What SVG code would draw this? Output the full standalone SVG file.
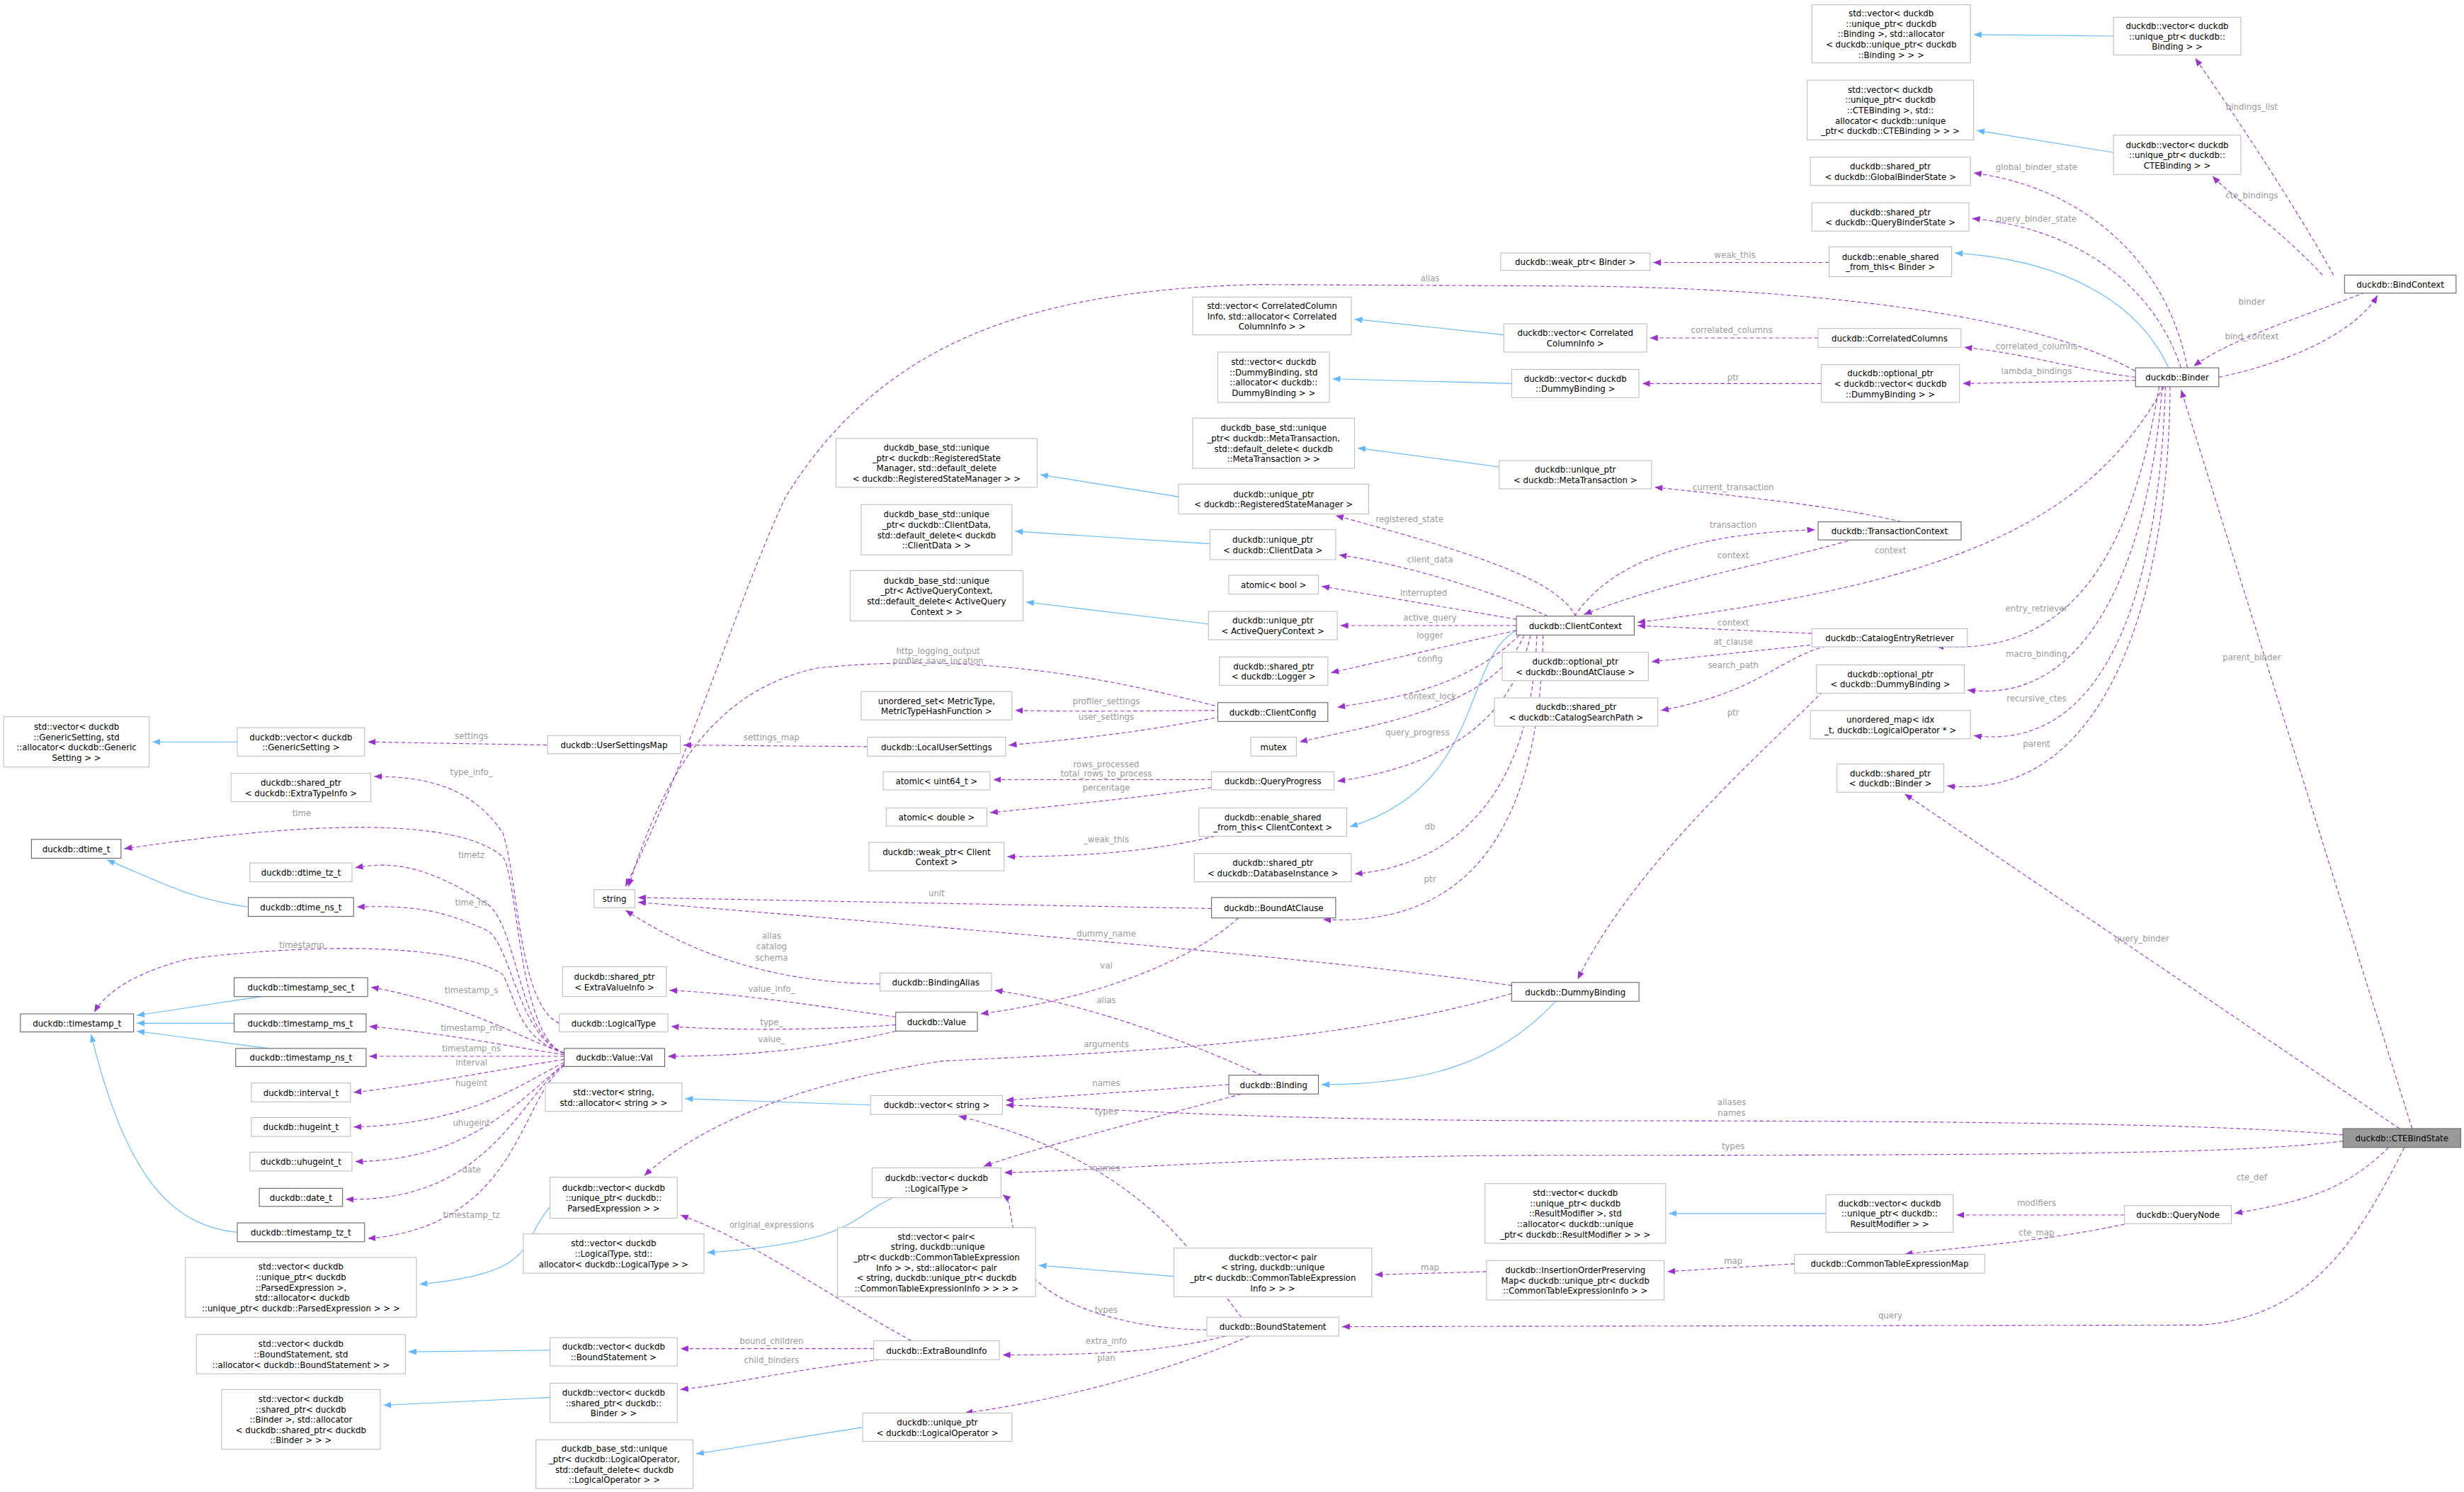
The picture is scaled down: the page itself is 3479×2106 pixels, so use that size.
<svg xmlns="http://www.w3.org/2000/svg" width="3479" height="2106" viewBox="0 0 3479 2106">
<style>
.n rect{fill:#fff;stroke:#bfbfbf;stroke-width:0.5}
.d rect{stroke:#666}
.g rect{fill:#999;stroke:#666}
text{font-family:"DejaVu Sans Condensed","DejaVu Sans","Liberation Sans",sans-serif;font-size:5.9px;text-anchor:middle;fill:#000}
.l text,text.l{fill:#9a9a9a}
.e{fill:none;stroke:#9a32cd;stroke-width:0.5;stroke-dasharray:2.5,1.6;marker-end:url(#pa)}
.i{fill:none;stroke:#63b8ff;stroke-width:0.5;marker-end:url(#ba)}
</style>
<defs>
<marker id="pa" markerUnits="userSpaceOnUse" markerWidth="5" markerHeight="4" viewBox="0 0 10 8" refX="10" refY="4" orient="auto"><path d="M0,0L10,4L0,8z" fill="#9a32cd"/></marker>
<marker id="ba" markerUnits="userSpaceOnUse" markerWidth="5" markerHeight="4" viewBox="0 0 10 8" refX="10" refY="4" orient="auto"><path d="M0,0L10,4L0,8z" fill="#63b8ff"/></marker>
</defs>
<rect width="3479" height="2106" fill="#fff"/>
<g transform="scale(2.2187)">
<g id="edges">
<path class="i" d="M1345,23L1256,22"/>
<path class="i" d="M1345,97L1258,83"/>
<path class="i" d="M1380,234C1360,190 1310,165 1244,161"/>
<path class="i" d="M957,213L862,203"/>
<path class="i" d="M962,244L848,241"/>
<path class="i" d="M954,297L864,285"/>
<path class="i" d="M750,316L662,302"/>
<path class="i" d="M770,346L646,338"/>
<path class="i" d="M769,397L653,383"/>
<path class="i" d="M965,401C930,420 945,500 859,526"/>
<path class="i" d="M990,637C950,680 900,690 841,690"/>
<path class="i" d="M151,472L97,472"/>
<path class="i" d="M158,577C120,572 100,560 68,547"/>
<path class="i" d="M166,634L87,646"/>
<path class="i" d="M149,651L87,651"/>
<path class="i" d="M171,667L87,656"/>
<path class="i" d="M151,784C110,780 80,750 58,658"/>
<path class="i" d="M554,703L436,699"/>
<path class="i" d="M350,768C330,790 345,810 267,817"/>
<path class="i" d="M568,762C540,775 545,790 450,797"/>
<path class="i" d="M747,812L661,805"/>
<path class="i" d="M350,859L260,860"/>
<path class="i" d="M350,889L244,894"/>
<path class="i" d="M549,908L443,925"/>
<path class="i" d="M1162,772L1062,772"/>

<path class="e" d="M1485,175C1460,130 1420,70 1397,37"/>
<path class="e" d="M1478,175C1450,145 1420,125 1408,112"/>
<path class="e" d="M1392,234C1380,170 1330,120 1256,110"/>
<path class="e" d="M1388,234C1370,180 1320,145 1255,139"/>
<path class="e" d="M1164,167L1052,167"/>
<path class="e" d="M1362,238C1300,200 1150,183 1000,182L800,181C650,185 560,220 500,316C470,380 440,480 398,564"/>
<path class="e" d="M1157,215L1050,215"/>
<path class="e" d="M1359,240C1320,235 1290,225 1250,221"/>
<path class="e" d="M1159,244L1045,244"/>
<path class="e" d="M1359,242L1249,244"/>
<path class="e" d="M1505,186C1470,200 1420,215 1396,233"/>
<path class="e" d="M1412,240C1460,230 1500,210 1513,188"/>
<path class="e" d="M1210,332C1170,322 1100,315 1053,310"/>
<path class="e" d="M1002,392C1020,365 1060,340 1155,337"/>
<path class="e" d="M1180,343C1120,360 1060,370 1008,391"/>
<path class="e" d="M1377,246C1330,330 1250,370 1042,396"/>
<path class="e" d="M1153,403L1042,398"/>
<path class="e" d="M1156,410L1051,421"/>
<path class="e" d="M1162,411C1130,420 1120,440 1057,452"/>
<path class="e" d="M1374,246C1360,330 1330,420 1232,411"/>
<path class="e" d="M1376,246C1370,330 1340,450 1252,439"/>
<path class="e" d="M1378,246C1375,350 1350,480 1256,468"/>
<path class="e" d="M1381,246C1380,380 1340,510 1239,500"/>
<path class="e" d="M1160,440C1120,480 1040,550 1004,623"/>
<path class="e" d="M1535,718L1388,248"/>
<path class="e" d="M1527,718L1212,505"/>
<path class="e" d="M1491,722C1420,716 1300,713 1000,713C800,713 700,705 640,703"/>
<path class="e" d="M1491,726C1430,733 1350,735 1000,735C800,735 700,745 639,746"/>
<path class="e" d="M1520,730C1490,760 1460,765 1422,772"/>
<path class="e" d="M1352,773L1245,773"/>
<path class="e" d="M1356,778C1300,790 1260,792 1212,798"/>
<path class="e" d="M1142,804L1061,809"/>
<path class="e" d="M946,809L875,811"/>
<path class="e" d="M1530,730C1500,790 1470,838 1400,843L854,844"/>
<path class="e" d="M1003,392C990,370 950,355 850,328"/>
<path class="e" d="M985,392C960,380 900,360 852,353"/>
<path class="e" d="M965,394L841,373"/>
<path class="e" d="M965,398L853,398"/>
<path class="e" d="M965,401L847,428"/>
<path class="e" d="M967,404C930,440 880,445 851,450"/>
<path class="e" d="M970,404C950,450 880,460 827,472"/>
<path class="e" d="M974,404C960,470 900,490 851,497"/>
<path class="e" d="M978,404C975,500 930,550 862,556"/>
<path class="e" d="M982,404C980,520 940,590 842,585"/>
<path class="e" d="M777,450C700,430 620,415 520,425C450,440 420,500 400,564"/>
<path class="e" d="M777,452C740,452 700,453 646,452"/>
<path class="e" d="M777,456C730,465 690,470 642,474"/>
<path class="e" d="M552,475L435,474"/>
<path class="e" d="M348,474L234,472"/>
<path class="e" d="M771,496L632,496"/>
<path class="e" d="M771,501C720,508 680,512 630,517"/>
<path class="e" d="M773,532C740,540 700,545 641,545"/>
<path class="e" d="M771,578L406,571"/>
<path class="e" d="M962,627C850,610 600,590 406,574"/>
<path class="e" d="M788,584C760,610 700,635 624,645"/>
<path class="e" d="M560,626C480,625 430,600 398,579"/>
<path class="e" d="M570,647C520,640 470,632 426,630"/>
<path class="e" d="M570,652C530,655 470,656 427,653"/>
<path class="e" d="M570,656C520,668 470,672 425,672"/>
<path class="e" d="M803,684C760,665 700,640 633,630"/>
<path class="e" d="M962,632C850,665 700,670 600,675C500,690 440,720 410,748"/>
<path class="e" d="M782,690L640,700"/>
<path class="e" d="M790,696C720,715 660,730 626,742"/>
<path class="e" d="M790,838C760,800 730,740 610,710"/>
<path class="e" d="M768,846C720,846 660,830 650,800C640,770 645,765 638,760"/>
<path class="e" d="M780,850C740,860 700,862 638,862"/>
<path class="e" d="M795,850C750,870 680,890 614,899"/>
<path class="e" d="M580,853C520,820 480,790 433,773"/>
<path class="e" d="M556,858L433,858"/>
<path class="e" d="M560,865C500,872 470,880 433,884"/>
<path class="e" d="M356,651C330,640 330,560 320,530C300,500 270,494 238,494"/>
<path class="e" d="M359,670C330,660 330,560 320,545C290,520 200,522 79,540"/>
<path class="e" d="M359,670C330,660 330,590 310,575C270,550 250,548 226,552"/>
<path class="e" d="M359,670C330,660 325,600 310,592C280,578 260,576 227,577"/>
<path class="e" d="M359,670C330,660 330,640 320,620C290,600 200,600 120,610C80,620 65,635 60,644"/>
<path class="e" d="M359,670C330,660 300,640 236,628"/>
<path class="e" d="M359,671C320,665 280,657 235,653"/>
<path class="e" d="M359,672L235,672"/>
<path class="e" d="M359,674C320,680 270,690 225,695"/>
<path class="e" d="M359,676C330,690 300,715 225,717"/>
<path class="e" d="M359,677C330,700 300,738 226,739"/>
<path class="e" d="M359,677C330,700 310,765 220,763"/>
<path class="e" d="M359,678C330,700 330,780 234,788"/>
<g class="l">
<text x="1433" y="70">bindings_list</text>
<text x="1433" y="126">cte_bindings</text>
<text x="1296" y="108">global_binder_state</text>
<text x="1296" y="141">query_binder_state</text>
<text x="1104" y="164">weak_this</text>
<text x="910" y="179">alias</text>
<text x="1102" y="212">correlated_columns</text>
<text x="1296" y="222">correlated_columns</text>
<text x="1103" y="242">ptr</text>
<text x="1296" y="238">lambda_bindings</text>
<text x="1433" y="194">binder</text>
<text x="1433" y="216">bind_context</text>
<text x="1103" y="312">current_transaction</text>
<text x="1103" y="336">transaction</text>
<text x="1103" y="355">context</text>
<text x="1203" y="352">context</text>
<text x="1103" y="398">context</text>
<text x="1103" y="410">at_clause</text>
<text x="1103" y="425">search_path</text>
<text x="1296" y="389">entry_retriever</text>
<text x="1296" y="418">macro_binding</text>
<text x="1296" y="446">recursive_ctes</text>
<text x="1296" y="475">parent</text>
<text x="1103" y="455">ptr</text>
<text x="1433" y="420">parent_binder</text>
<text x="1363" y="599">query_binder</text>
<text x="1102" y="703">aliases</text>
<text x="1102" y="710">names</text>
<text x="1103" y="731">types</text>
<text x="1433" y="751">cte_def</text>
<text x="1296" y="767">modifiers</text>
<text x="1296" y="786">cte_map</text>
<text x="1103" y="804">map</text>
<text x="910" y="808">map</text>
<text x="1203" y="839">query</text>
<text x="897" y="332">registered_state</text>
<text x="910" y="358">client_data</text>
<text x="906" y="379">interrupted</text>
<text x="910" y="395">active_query</text>
<text x="910" y="406">logger</text>
<text x="910" y="421">config</text>
<text x="910" y="445">context_lock</text>
<text x="902" y="468">query_progress</text>
<text x="910" y="528">db</text>
<text x="910" y="561">ptr</text>
<text x="597" y="416">http_logging_output</text>
<text x="597" y="422.5">profiler_save_location</text>
<text x="704" y="448">profiler_settings</text>
<text x="704" y="458">user_settings</text>
<text x="491" y="471">settings_map</text>
<text x="300" y="470">settings</text>
<text x="704" y="488">rows_processed</text>
<text x="704" y="494">total_rows_to_process</text>
<text x="704" y="503">percentage</text>
<text x="704" y="536">_weak_this</text>
<text x="596" y="570">unit</text>
<text x="704" y="596">dummy_name</text>
<text x="704" y="616">val</text>
<text x="491" y="597">alias</text>
<text x="491" y="604">catalog</text>
<text x="491" y="611">schema</text>
<text x="491" y="631">value_info_</text>
<text x="491" y="652">type_</text>
<text x="491" y="663">value_</text>
<text x="704" y="638">alias</text>
<text x="704" y="666">arguments</text>
<text x="704" y="691">names</text>
<text x="704" y="709">types</text>
<text x="704" y="745">names</text>
<text x="704" y="835">types</text>
<text x="704" y="855">extra_info</text>
<text x="704" y="866">plan</text>
<text x="491" y="781">original_expressions</text>
<text x="491" y="855">bound_children</text>
<text x="491" y="867">child_binders</text>
<text x="300" y="493">type_info_</text>
<text x="192" y="519">time</text>
<text x="300" y="546">timetz</text>
<text x="300" y="576">time_ns</text>
<text x="192" y="603">timestamp</text>
<text x="300" y="632">timestamp_s</text>
<text x="300" y="656">timestamp_ms</text>
<text x="300" y="669">timestamp_ns</text>
<text x="300" y="678">interval</text>
<text x="300" y="691">hugeint</text>
<text x="300" y="716">uhugeint</text>
<text x="300" y="746">date</text>
<text x="300" y="775">timestamp_tz</text>
</g>
</g>

<g id="n1" class="n"><rect x="1153" y="3" width="101" height="37"/><text x="1203.5" y="10.4"><tspan x="1203.5">std::vector&lt; duckdb</tspan><tspan x="1203.5" dy="6.6">::unique_ptr&lt; duckdb</tspan><tspan x="1203.5" dy="6.6">::Binding &gt;, std::allocator</tspan><tspan x="1203.5" dy="6.6">&lt; duckdb::unique_ptr&lt; duckdb</tspan><tspan x="1203.5" dy="6.6">::Binding &gt; &gt; &gt;</tspan></text></g>
<g id="n2" class="n"><rect x="1345" y="11" width="81" height="24"/><text x="1385.5" y="18.5"><tspan x="1385.5">duckdb::vector&lt; duckdb</tspan><tspan x="1385.5" dy="6.6">::unique_ptr&lt; duckdb::</tspan><tspan x="1385.5" dy="6.6">Binding &gt; &gt;</tspan></text></g>
<g id="n3" class="n"><rect x="1150" y="51" width="106" height="38"/><text x="1203" y="58.9"><tspan x="1203">std::vector&lt; duckdb</tspan><tspan x="1203" dy="6.6">::unique_ptr&lt; duckdb</tspan><tspan x="1203" dy="6.6">::CTEBinding &gt;, std::</tspan><tspan x="1203" dy="6.6">allocator&lt; duckdb::unique</tspan><tspan x="1203" dy="6.6">_ptr&lt; duckdb::CTEBinding &gt; &gt; &gt;</tspan></text></g>
<g id="n4" class="n"><rect x="1345" y="86" width="81" height="25"/><text x="1385.5" y="94"><tspan x="1385.5">duckdb::vector&lt; duckdb</tspan><tspan x="1385.5" dy="6.6">::unique_ptr&lt; duckdb::</tspan><tspan x="1385.5" dy="6.6">CTEBinding &gt; &gt;</tspan></text></g>
<g id="n5" class="n"><rect x="1152" y="100" width="102" height="18"/><text x="1203" y="107.8"><tspan x="1203">duckdb::shared_ptr</tspan><tspan x="1203" dy="6.6">&lt; duckdb::GlobalBinderState &gt;</tspan></text></g>
<g id="n6" class="n"><rect x="1153" y="129" width="100" height="18"/><text x="1203" y="136.8"><tspan x="1203">duckdb::shared_ptr</tspan><tspan x="1203" dy="6.6">&lt; duckdb::QueryBinderState &gt;</tspan></text></g>
<g id="n7" class="n d"><rect x="1492" y="175" width="71" height="11.5"/><text x="1527.5" y="182.9">duckdb::BindContext</text></g>
<g id="n8" class="n"><rect x="955" y="161" width="95" height="11"/><text x="1002.5" y="168.6">duckdb::weak_ptr&lt; Binder &gt;</text></g>
<g id="n9" class="n"><rect x="1164" y="157" width="78" height="19"/><text x="1203" y="165.3"><tspan x="1203">duckdb::enable_shared</tspan><tspan x="1203" dy="6.6">_from_this&lt; Binder &gt;</tspan></text></g>
<g id="n10" class="n"><rect x="957" y="206" width="91" height="18"/><text x="1002.5" y="213.8"><tspan x="1002.5">duckdb::vector&lt; Correlated</tspan><tspan x="1002.5" dy="6.6">ColumnInfo &gt;</tspan></text></g>
<g id="n11" class="n"><rect x="1157" y="209" width="91" height="12"/><text x="1202.5" y="217.1">duckdb::CorrelatedColumns</text></g>
<g id="n12" class="n d"><rect x="1359" y="234" width="53" height="12"/><text x="1385.5" y="242.1">duckdb::Binder</text></g>
<g id="n13" class="n"><rect x="962" y="235" width="81" height="18"/><text x="1002.5" y="242.8"><tspan x="1002.5">duckdb::vector&lt; duckdb</tspan><tspan x="1002.5" dy="6.6">::DummyBinding &gt;</tspan></text></g>
<g id="n14" class="n"><rect x="1159" y="232" width="88" height="24"/><text x="1203" y="239.5"><tspan x="1203">duckdb::optional_ptr</tspan><tspan x="1203" dy="6.6">&lt; duckdb::vector&lt; duckdb</tspan><tspan x="1203" dy="6.6">::DummyBinding &gt; &gt;</tspan></text></g>
<g id="n15" class="n"><rect x="954" y="293" width="97" height="18"/><text x="1002.5" y="300.8"><tspan x="1002.5">duckdb::unique_ptr</tspan><tspan x="1002.5" dy="6.6">&lt; duckdb::MetaTransaction &gt;</tspan></text></g>
<g id="n16" class="n d"><rect x="1157" y="332" width="91" height="11.5"/><text x="1202.5" y="339.9">duckdb::TransactionContext</text></g>
<g id="n17" class="n d"><rect x="965" y="392" width="75" height="12"/><text x="1002.5" y="400.1">duckdb::ClientContext</text></g>
<g id="n18" class="n"><rect x="1153" y="400" width="99" height="11.5"/><text x="1202.5" y="407.9">duckdb::CatalogEntryRetriever</text></g>
<g id="n19" class="n"><rect x="956" y="415" width="93" height="18"/><text x="1002.5" y="422.8"><tspan x="1002.5">duckdb::optional_ptr</tspan><tspan x="1002.5" dy="6.6">&lt; duckdb::BoundAtClause &gt;</tspan></text></g>
<g id="n20" class="n"><rect x="951" y="444" width="104" height="18"/><text x="1003" y="451.8"><tspan x="1003">duckdb::shared_ptr</tspan><tspan x="1003" dy="6.6">&lt; duckdb::CatalogSearchPath &gt;</tspan></text></g>
<g id="n21" class="n"><rect x="1156" y="423" width="94" height="18"/><text x="1203" y="430.8"><tspan x="1203">duckdb::optional_ptr</tspan><tspan x="1203" dy="6.6">&lt; duckdb::DummyBinding &gt;</tspan></text></g>
<g id="n22" class="n"><rect x="1152" y="452" width="102" height="18"/><text x="1203" y="459.8"><tspan x="1203">unordered_map&lt; idx</tspan><tspan x="1203" dy="6.6">_t, duckdb::LogicalOperator * &gt;</tspan></text></g>
<g id="n23" class="n"><rect x="1169" y="486" width="68" height="18"/><text x="1203" y="493.8"><tspan x="1203">duckdb::shared_ptr</tspan><tspan x="1203" dy="6.6">&lt; duckdb::Binder &gt;</tspan></text></g>
<g id="n24" class="n d"><rect x="962" y="625" width="81" height="12"/><text x="1002.5" y="633.1">duckdb::DummyBinding</text></g>
<g id="n25" class="n g"><rect x="1491" y="718" width="75" height="12"/><text x="1528.5" y="726.1">duckdb::CTEBindState</text></g>
<g id="n26" class="n"><rect x="945" y="753" width="115" height="38"/><text x="1002.5" y="760.9"><tspan x="1002.5">std::vector&lt; duckdb</tspan><tspan x="1002.5" dy="6.6">::unique_ptr&lt; duckdb</tspan><tspan x="1002.5" dy="6.6">::ResultModifier &gt;, std</tspan><tspan x="1002.5" dy="6.6">::allocator&lt; duckdb::unique</tspan><tspan x="1002.5" dy="6.6">_ptr&lt; duckdb::ResultModifier &gt; &gt; &gt;</tspan></text></g>
<g id="n27" class="n"><rect x="1162" y="760" width="81" height="24"/><text x="1202.5" y="767.5"><tspan x="1202.5">duckdb::vector&lt; duckdb</tspan><tspan x="1202.5" dy="6.6">::unique_ptr&lt; duckdb::</tspan><tspan x="1202.5" dy="6.6">ResultModifier &gt; &gt;</tspan></text></g>
<g id="n28" class="n"><rect x="1352" y="767" width="68" height="11.5"/><text x="1386" y="774.9">duckdb::QueryNode</text></g>
<g id="n29" class="n"><rect x="1142" y="798" width="121" height="12"/><text x="1202.5" y="806.1">duckdb::CommonTableExpressionMap</text></g>
<g id="n30" class="n"><rect x="946" y="802" width="113" height="25"/><text x="1002.5" y="810"><tspan x="1002.5">duckdb::InsertionOrderPreserving</tspan><tspan x="1002.5" dy="6.6">Map&lt; duckdb::unique_ptr&lt; duckdb</tspan><tspan x="1002.5" dy="6.6">::CommonTableExpressionInfo &gt; &gt;</tspan></text></g>
<g id="n31" class="n"><rect x="759" y="189" width="101" height="24"/><text x="809.5" y="196.5"><tspan x="809.5">std::vector&lt; CorrelatedColumn</tspan><tspan x="809.5" dy="6.6">Info, std::allocator&lt; Correlated</tspan><tspan x="809.5" dy="6.6">ColumnInfo &gt; &gt;</tspan></text></g>
<g id="n32" class="n"><rect x="775" y="224" width="71" height="32"/><text x="810.5" y="232.2"><tspan x="810.5">std::vector&lt; duckdb</tspan><tspan x="810.5" dy="6.6">::DummyBinding, std</tspan><tspan x="810.5" dy="6.6">::allocator&lt; duckdb::</tspan><tspan x="810.5" dy="6.6">DummyBinding &gt; &gt;</tspan></text></g>
<g id="n33" class="n"><rect x="759" y="266" width="103" height="32"/><text x="810.5" y="274.2"><tspan x="810.5">duckdb_base_std::unique</tspan><tspan x="810.5" dy="6.6">_ptr&lt; duckdb::MetaTransaction,</tspan><tspan x="810.5" dy="6.6">std::default_delete&lt; duckdb</tspan><tspan x="810.5" dy="6.6">::MetaTransaction &gt; &gt;</tspan></text></g>
<g id="n34" class="n"><rect x="532" y="279" width="128" height="31"/><text x="596" y="286.7"><tspan x="596">duckdb_base_std::unique</tspan><tspan x="596" dy="6.6">_ptr&lt; duckdb::RegisteredState</tspan><tspan x="596" dy="6.6">Manager, std::default_delete</tspan><tspan x="596" dy="6.6">&lt; duckdb::RegisteredStateManager &gt; &gt;</tspan></text></g>
<g id="n35" class="n"><rect x="750" y="308" width="121" height="19"/><text x="810.5" y="316.3"><tspan x="810.5">duckdb::unique_ptr</tspan><tspan x="810.5" dy="6.6">&lt; duckdb::RegisteredStateManager &gt;</tspan></text></g>
<g id="n36" class="n"><rect x="548" y="321" width="96" height="32"/><text x="596" y="329.2"><tspan x="596">duckdb_base_std::unique</tspan><tspan x="596" dy="6.6">_ptr&lt; duckdb::ClientData,</tspan><tspan x="596" dy="6.6">std::default_delete&lt; duckdb</tspan><tspan x="596" dy="6.6">::ClientData &gt; &gt;</tspan></text></g>
<g id="n37" class="n"><rect x="770" y="337" width="80" height="19"/><text x="810" y="345.3"><tspan x="810">duckdb::unique_ptr</tspan><tspan x="810" dy="6.6">&lt; duckdb::ClientData &gt;</tspan></text></g>
<g id="n38" class="n"><rect x="782" y="366" width="57" height="12"/><text x="810.5" y="374.1">atomic&lt; bool &gt;</text></g>
<g id="n39" class="n"><rect x="541" y="363" width="110" height="32"/><text x="596" y="371.2"><tspan x="596">duckdb_base_std::unique</tspan><tspan x="596" dy="6.6">_ptr&lt; ActiveQueryContext,</tspan><tspan x="596" dy="6.6">std::default_delete&lt; ActiveQuery</tspan><tspan x="596" dy="6.6">Context &gt; &gt;</tspan></text></g>
<g id="n40" class="n"><rect x="769" y="389" width="82" height="18"/><text x="810" y="396.8"><tspan x="810">duckdb::unique_ptr</tspan><tspan x="810" dy="6.6">&lt; ActiveQueryContext &gt;</tspan></text></g>
<g id="n41" class="n"><rect x="776" y="418" width="69" height="18"/><text x="810.5" y="425.8"><tspan x="810.5">duckdb::shared_ptr</tspan><tspan x="810.5" dy="6.6">&lt; duckdb::Logger &gt;</tspan></text></g>
<g id="n42" class="n"><rect x="548" y="440" width="96" height="18"/><text x="596" y="447.8"><tspan x="596">unordered_set&lt; MetricType,</tspan><tspan x="596" dy="6.6">MetricTypeHashFunction &gt;</tspan></text></g>
<g id="n43" class="n d"><rect x="775" y="447" width="70" height="12"/><text x="810" y="455.1">duckdb::ClientConfig</text></g>
<g id="n44" class="n"><rect x="348.5" y="468" width="84.5" height="11.5"/><text x="390.75" y="475.9">duckdb::UserSettingsMap</text></g>
<g id="n45" class="n"><rect x="552" y="469" width="88" height="12"/><text x="596" y="477.1">duckdb::LocalUserSettings</text></g>
<g id="n46" class="n"><rect x="796" y="469" width="29" height="12"/><text x="810.5" y="477.1">mutex</text></g>
<g id="n47" class="n"><rect x="562" y="491" width="68" height="11.5"/><text x="596" y="498.9">atomic&lt; uint64_t &gt;</text></g>
<g id="n48" class="n"><rect x="771" y="491" width="78" height="11.5"/><text x="810" y="498.9">duckdb::QueryProgress</text></g>
<g id="n49" class="n"><rect x="564" y="514" width="64" height="11.5"/><text x="596" y="521.9">atomic&lt; double &gt;</text></g>
<g id="n50" class="n"><rect x="763" y="514" width="94" height="18"/><text x="810" y="521.8"><tspan x="810">duckdb::enable_shared</tspan><tspan x="810" dy="6.6">_from_this&lt; ClientContext &gt;</tspan></text></g>
<g id="n51" class="n"><rect x="553" y="536" width="86" height="18"/><text x="596" y="543.8"><tspan x="596">duckdb::weak_ptr&lt; Client</tspan><tspan x="596" dy="6.6">Context &gt;</tspan></text></g>
<g id="n52" class="n"><rect x="760" y="543" width="100" height="18"/><text x="810" y="550.8"><tspan x="810">duckdb::shared_ptr</tspan><tspan x="810" dy="6.6">&lt; duckdb::DatabaseInstance &gt;</tspan></text></g>
<g id="n53" class="n"><rect x="378" y="566" width="26" height="11.5"/><text x="391" y="573.9">string</text></g>
<g id="n54" class="n d"><rect x="771" y="571" width="79" height="13"/><text x="810.5" y="579.6">duckdb::BoundAtClause</text></g>
<g id="n55" class="n"><rect x="358" y="615" width="66" height="19"/><text x="391" y="623.3"><tspan x="391">duckdb::shared_ptr</tspan><tspan x="391" dy="6.6">&lt; ExtraValueInfo &gt;</tspan></text></g>
<g id="n56" class="n"><rect x="560" y="619" width="71" height="11.5"/><text x="595.5" y="626.9">duckdb::BindingAlias</text></g>
<g id="n57" class="n"><rect x="356" y="645" width="69" height="11.5"/><text x="390.5" y="652.9">duckdb::LogicalType</text></g>
<g id="n58" class="n d"><rect x="570" y="644" width="52" height="12"/><text x="596" y="652.1">duckdb::Value</text></g>
<g id="n59" class="n d"><rect x="359" y="667" width="64" height="11.5"/><text x="391" y="674.9">duckdb::Value::Val</text></g>
<g id="n60" class="n"><rect x="347" y="689" width="87" height="18"/><text x="390.5" y="696.8"><tspan x="390.5">std::vector&lt; string,</tspan><tspan x="390.5" dy="6.6">std::allocator&lt; string &gt; &gt;</tspan></text></g>
<g id="n61" class="n"><rect x="554" y="697" width="84" height="12"/><text x="596" y="705.1">duckdb::vector&lt; string &gt;</text></g>
<g id="n62" class="n d"><rect x="782" y="684" width="57" height="12"/><text x="810.5" y="692.1">duckdb::Binding</text></g>
<g id="n63" class="n"><rect x="350" y="749" width="81" height="26"/><text x="390.5" y="757.5"><tspan x="390.5">duckdb::vector&lt; duckdb</tspan><tspan x="390.5" dy="6.6">::unique_ptr&lt; duckdb::</tspan><tspan x="390.5" dy="6.6">ParsedExpression &gt; &gt;</tspan></text></g>
<g id="n64" class="n"><rect x="555" y="743" width="82" height="19"/><text x="596" y="751.3"><tspan x="596">duckdb::vector&lt; duckdb</tspan><tspan x="596" dy="6.6">::LogicalType &gt;</tspan></text></g>
<g id="n65" class="n"><rect x="333" y="785" width="115" height="25"/><text x="390.5" y="793"><tspan x="390.5">std::vector&lt; duckdb</tspan><tspan x="390.5" dy="6.6">::LogicalType, std::</tspan><tspan x="390.5" dy="6.6">allocator&lt; duckdb::LogicalType &gt; &gt;</tspan></text></g>
<g id="n66" class="n"><rect x="533" y="781" width="126" height="44"/><text x="596" y="788.6"><tspan x="596">std::vector&lt; pair&lt;</tspan><tspan x="596" dy="6.6"> string, duckdb::unique</tspan><tspan x="596" dy="6.6">_ptr&lt; duckdb::CommonTableExpression</tspan><tspan x="596" dy="6.6">Info &gt; &gt;, std::allocator&lt; pair</tspan><tspan x="596" dy="6.6">&lt; string, duckdb::unique_ptr&lt; duckdb</tspan><tspan x="596" dy="6.6">::CommonTableExpressionInfo &gt; &gt; &gt; &gt;</tspan></text></g>
<g id="n67" class="n"><rect x="747" y="794" width="126" height="31"/><text x="810" y="801.7"><tspan x="810">duckdb::vector&lt; pair</tspan><tspan x="810" dy="6.6">&lt; string, duckdb::unique</tspan><tspan x="810" dy="6.6">_ptr&lt; duckdb::CommonTableExpression</tspan><tspan x="810" dy="6.6">Info &gt; &gt; &gt;</tspan></text></g>
<g id="n68" class="n"><rect x="768" y="838" width="84" height="12"/><text x="810" y="846.1">duckdb::BoundStatement</text></g>
<g id="n69" class="n"><rect x="556" y="853" width="80" height="12"/><text x="596" y="861.1">duckdb::ExtraBoundInfo</text></g>
<g id="n70" class="n"><rect x="350" y="851" width="81" height="18"/><text x="390.5" y="858.8"><tspan x="390.5">duckdb::vector&lt; duckdb</tspan><tspan x="390.5" dy="6.6">::BoundStatement &gt;</tspan></text></g>
<g id="n71" class="n"><rect x="350" y="880" width="81" height="25"/><text x="390.5" y="888"><tspan x="390.5">duckdb::vector&lt; duckdb</tspan><tspan x="390.5" dy="6.6">::shared_ptr&lt; duckdb::</tspan><tspan x="390.5" dy="6.6">Binder &gt; &gt;</tspan></text></g>
<g id="n72" class="n"><rect x="549" y="899" width="95" height="18"/><text x="596.5" y="906.8"><tspan x="596.5">duckdb::unique_ptr</tspan><tspan x="596.5" dy="6.6">&lt; duckdb::LogicalOperator &gt;</tspan></text></g>
<g id="n73" class="n"><rect x="341" y="916" width="100" height="31"/><text x="391" y="923.7"><tspan x="391">duckdb_base_std::unique</tspan><tspan x="391" dy="6.6">_ptr&lt; duckdb::LogicalOperator,</tspan><tspan x="391" dy="6.6">std::default_delete&lt; duckdb</tspan><tspan x="391" dy="6.6">::LogicalOperator &gt; &gt;</tspan></text></g>
<g id="n74" class="n"><rect x="2.3" y="456" width="92.7" height="32"/><text x="48.7" y="464.2"><tspan x="48.7">std::vector&lt; duckdb</tspan><tspan x="48.7" dy="6.6">::GenericSetting, std</tspan><tspan x="48.7" dy="6.6">::allocator&lt; duckdb::Generic</tspan><tspan x="48.7" dy="6.6">Setting &gt; &gt;</tspan></text></g>
<g id="n75" class="n"><rect x="151" y="463" width="81" height="18"/><text x="191.5" y="470.8"><tspan x="191.5">duckdb::vector&lt; duckdb</tspan><tspan x="191.5" dy="6.6">::GenericSetting &gt;</tspan></text></g>
<g id="n76" class="n"><rect x="147" y="492" width="89" height="18"/><text x="191.5" y="499.8"><tspan x="191.5">duckdb::shared_ptr</tspan><tspan x="191.5" dy="6.6">&lt; duckdb::ExtraTypeInfo &gt;</tspan></text></g>
<g id="n77" class="n d"><rect x="20" y="534" width="57" height="12"/><text x="48.5" y="542.1">duckdb::dtime_t</text></g>
<g id="n78" class="n"><rect x="159" y="549" width="65" height="12"/><text x="191.5" y="557.1">duckdb::dtime_tz_t</text></g>
<g id="n79" class="n d"><rect x="158" y="571" width="67" height="12"/><text x="191.5" y="579.1">duckdb::dtime_ns_t</text></g>
<g id="n80" class="n d"><rect x="149" y="622" width="85" height="12"/><text x="191.5" y="630.1">duckdb::timestamp_sec_t</text></g>
<g id="n81" class="n d"><rect x="13" y="645" width="72" height="11.5"/><text x="49" y="652.9">duckdb::timestamp_t</text></g>
<g id="n82" class="n d"><rect x="149" y="645" width="84" height="11.5"/><text x="191" y="652.9">duckdb::timestamp_ms_t</text></g>
<g id="n83" class="n d"><rect x="150" y="667" width="83" height="11.5"/><text x="191.5" y="674.9">duckdb::timestamp_ns_t</text></g>
<g id="n84" class="n"><rect x="160" y="689" width="63" height="12"/><text x="191.5" y="697.1">duckdb::interval_t</text></g>
<g id="n85" class="n"><rect x="160" y="711" width="63" height="12"/><text x="191.5" y="719.1">duckdb::hugeint_t</text></g>
<g id="n86" class="n"><rect x="159" y="733" width="65" height="12"/><text x="191.5" y="741.1">duckdb::uhugeint_t</text></g>
<g id="n87" class="n d"><rect x="165" y="756" width="53" height="11.5"/><text x="191.5" y="763.9">duckdb::date_t</text></g>
<g id="n88" class="n d"><rect x="151" y="778" width="81" height="12"/><text x="191.5" y="786.1">duckdb::timestamp_tz_t</text></g>
<g id="n89" class="n"><rect x="118" y="800" width="147" height="38"/><text x="191.5" y="807.9"><tspan x="191.5">std::vector&lt; duckdb</tspan><tspan x="191.5" dy="6.6">::unique_ptr&lt; duckdb</tspan><tspan x="191.5" dy="6.6">::ParsedExpression &gt;,</tspan><tspan x="191.5" dy="6.6"> std::allocator&lt; duckdb</tspan><tspan x="191.5" dy="6.6">::unique_ptr&lt; duckdb::ParsedExpression &gt; &gt; &gt;</tspan></text></g>
<g id="n90" class="n"><rect x="125" y="849" width="133" height="25"/><text x="191.5" y="857"><tspan x="191.5">std::vector&lt; duckdb</tspan><tspan x="191.5" dy="6.6">::BoundStatement, std</tspan><tspan x="191.5" dy="6.6">::allocator&lt; duckdb::BoundStatement &gt; &gt;</tspan></text></g>
<g id="n91" class="n"><rect x="141" y="884" width="101" height="38"/><text x="191.5" y="891.9"><tspan x="191.5">std::vector&lt; duckdb</tspan><tspan x="191.5" dy="6.6">::shared_ptr&lt; duckdb</tspan><tspan x="191.5" dy="6.6">::Binder &gt;, std::allocator</tspan><tspan x="191.5" dy="6.6">&lt; duckdb::shared_ptr&lt; duckdb</tspan><tspan x="191.5" dy="6.6">::Binder &gt; &gt; &gt;</tspan></text></g>
</g>
</svg>
